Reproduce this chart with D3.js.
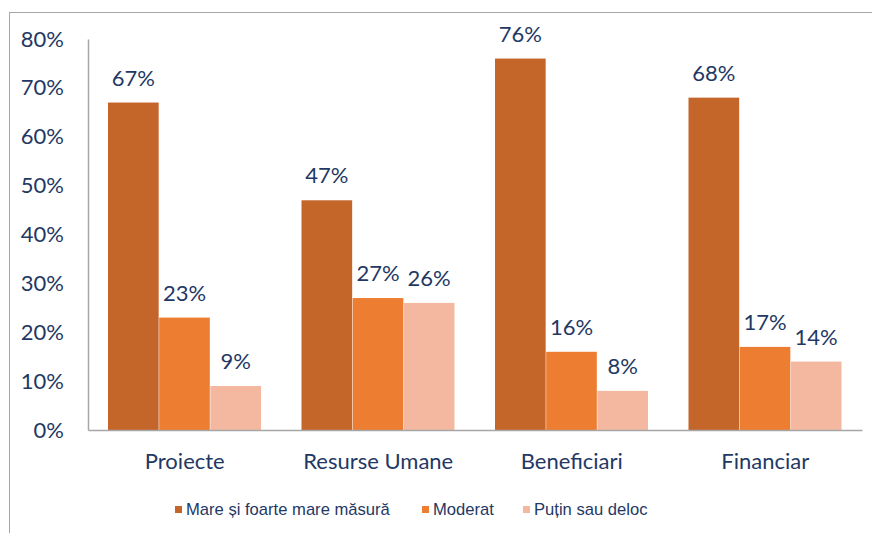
<!DOCTYPE html>
<html>
<head>
<meta charset="utf-8">
<script src="https://cdn.jsdelivr.net/npm/d3@7"></script>
<style>
  body { margin: 0; background: #fff; }
  svg { display: block; }
</style>
</head>
<body>
<svg width="872" height="533"></svg>
<script>
const categorii = ['Proiecte', 'Resurse Umane', 'Beneficiari', 'Financiar'];
const serii = ['Mare și foarte mare măsură', 'Moderat', 'Puțin sau deloc'];
const mare = [0.67, 0.47, 0.76, 0.68];
const moderat = [0.23, 0.27, 0.16, 0.17];
const putin = [0.09, 0.26, 0.08, 0.14];
const ticks = [0, 0.1, 0.2, 0.3, 0.4, 0.5, 0.6, 0.7, 0.8];
const culori = ['#C4652A', '#ED7D31', '#F4B8A1'];

const valori = [mare, moderat, putin];
const textColor = '#1F3864';
const font = 'Lato, "Open Sans", sans-serif';

const svg = d3.select('svg');

// chenar
svg.append('rect')
    .attr('x', 9.5).attr('y', 12.5)
    .attr('width', 900).attr('height', 600)
    .attr('fill', 'none')
    .attr('stroke', '#A6A6A6');

const x0 = d3.scaleBand()
    .domain(categorii)
    .range([88, 862])
    .padding(0);

const x1 = d3.scaleBand()
    .domain(serii)
    .range([20, 173])
    .paddingInner(0.01);

const y = d3.scaleLinear()
    .domain([0, 0.8])
    .range([430, 39]);

const fmt = d3.format('.0%');

// bare
serii.forEach((s, i) => {
    svg.append('g').selectAll('rect')
        .data(categorii)
        .join('rect')
        .attr('x', c => x0(c) + x1(s))
        .attr('y', (c, j) => y(valori[i][j]))
        .attr('width', x1.bandwidth())
        .attr('height', (c, j) => y(0) - y(valori[i][j]))
        .attr('fill', culori[i]);

    svg.append('g').selectAll('text')
        .data(categorii)
        .join('text')
        .attr('x', c => x0(c) + x1(s) + x1.bandwidth() / 2)
        .attr('y', (c, j) => y(valori[i][j]) - 17)
        .attr('text-anchor', 'middle')
        .attr('font-family', font)
        .attr('font-size', 22)
        .attr('fill', textColor)
        .text((c, j) => fmt(valori[i][j]));
});

// axa Y
const yAxis = svg.append('g')
    .attr('transform', 'translate(88,0)')
    .call(d3.axisLeft(y).tickValues(ticks).tickFormat(fmt).tickSize(0).tickPadding(24));
yAxis.select('.domain').attr('stroke', '#A6A6A6').attr('stroke-width', 1.5);
yAxis.selectAll('text')
    .attr('font-family', font)
    .attr('font-size', 22)
    .attr('fill', textColor);

// axa X
const xAxis = svg.append('g')
    .attr('transform', 'translate(0,430)')
    .call(d3.axisBottom(x0).tickSize(0).tickPadding(23));
xAxis.select('.domain').attr('stroke', '#A6A6A6').attr('stroke-width', 1.5);
xAxis.selectAll('text')
    .attr('font-family', font)
    .attr('font-size', 22)
    .attr('fill', textColor);

// legenda
const legendX = [175, 422, 523];
const leg = svg.append('g').selectAll('g')
    .data(serii)
    .join('g')
    .attr('transform', (d, i) => `translate(${legendX[i]},502)`);
leg.append('rect')
    .attr('width', 7).attr('height', 7)
    .attr('y', 4)
    .attr('fill', (d, i) => culori[i]);
leg.append('text')
    .attr('x', 11)
    .attr('y', 13)
    .attr('font-family', '"Liberation Sans", Arial, sans-serif')
    .attr('font-size', 16.6)
    .attr('fill', textColor)
    .text(d => d);
</script>
</body>
</html>
